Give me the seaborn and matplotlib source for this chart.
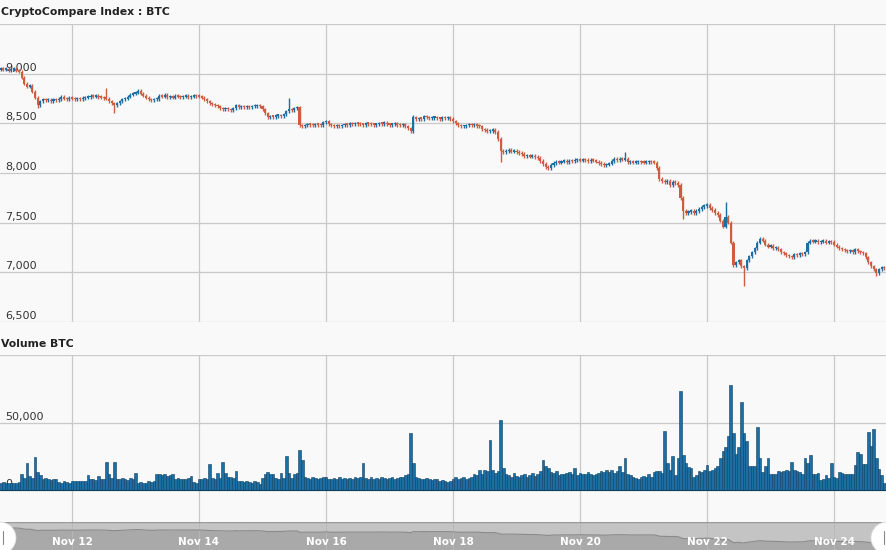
import numpy as np
import pandas as pd
import matplotlib
matplotlib.use("Agg")
import matplotlib.pyplot as plt
import matplotlib.dates as mdates
from matplotlib.patches import Ellipse
import seaborn as sns

# hourly candles, starting Nov 10 21:00
start = "2017-11-10 21:00"

close = [
    9045, 9040, 9050, 9035, 9040, 9045, 9030, 9020,
    8960, 8900, 8870, 8880, 8820, 8760, 8680,
    8720, 8740, 8730, 8735, 8725, 8740, 8730, 8745, 8770,
    8750, 8745, 8755, 8750, 8740, 8750, 8745, 8755, 8760,
    8765, 8775, 8770, 8780, 8765, 8760, 8755, 8750,
    8720, 8700, 8680,
    8700, 8720, 8740, 8750, 8770, 8790, 8800, 8810, 8830,
    8800, 8780, 8760, 8740, 8735, 8740, 8745, 8780, 8770, 8785,
    8765, 8770, 8760, 8775, 8770, 8765, 8770, 8775, 8765, 8770, 8780, 8775,
    8770, 8760, 8740, 8720, 8700, 8690, 8680, 8670,
    8650, 8640, 8645, 8640, 8635, 8650, 8680,
    8660, 8665, 8660, 8670, 8665, 8670, 8675, 8680, 8670,
    8640, 8600, 8560,
    8570, 8565, 8575, 8580, 8570, 8590,
    8620, 8640, 8630, 8650, 8660, 8480,
    8470, 8480, 8490, 8485, 8480, 8490, 8485, 8480,
    8510, 8520, 8490, 8480, 8470, 8475, 8470, 8480,
    8490, 8485, 8495, 8490, 8500, 8495, 8490, 8485, 8500, 8495, 8490, 8485,
    8490, 8500, 8495, 8505, 8490, 8485, 8490, 8495, 8485, 8480, 8490,
    8470, 8450, 8420, 8560,
    8540, 8550, 8545, 8570, 8560, 8550, 8555, 8560, 8550, 8545, 8555,
    8550, 8555, 8545, 8520, 8500, 8480, 8470,
    8470, 8480, 8490, 8480, 8485, 8475, 8470,
    8440, 8430, 8420, 8425, 8430, 8410, 8340, 8220,
    8210, 8220, 8230, 8215, 8220, 8210, 8200, 8190,
    8170, 8175, 8165, 8170, 8160, 8150,
    8120, 8090, 8060, 8050,
    8080, 8100, 8110, 8105, 8115, 8120, 8110, 8125, 8120, 8130,
    8130, 8125, 8135, 8130, 8120, 8130, 8125, 8115,
    8100, 8090, 8080, 8085, 8095,
    8120, 8140, 8130, 8145, 8135, 8140,
    8110, 8115, 8105, 8110, 8115, 8110, 8105, 8110, 8115, 8110, 8105,
    8050, 7940, 7920, 7910, 7920, 7880, 7910, 7900, 7880,
    7750, 7620, 7600, 7610, 7620, 7600, 7615,
    7640, 7660, 7670, 7680, 7650, 7630, 7600, 7580,
    7520, 7460, 7560, 7500, 7300,
    7070, 7100, 7120, 7060, 7040,
    7120, 7160, 7200, 7240, 7300, 7340,
    7320, 7280, 7260, 7270, 7240, 7250,
    7230, 7200, 7190, 7170, 7160, 7150,
    7180, 7170, 7190, 7180, 7200, 7300, 7320,
    7310, 7320, 7305, 7310, 7315, 7300, 7310, 7305,
    7280, 7260, 7240, 7230, 7220,
    7210, 7220, 7200, 7230, 7210, 7200, 7190,
    7150, 7100, 7060, 7030, 6990,
    7030, 7050, 7040, 7030,
]
first_open = 9040

# long wicks that stand out
spike_high = {40: 8860, 109: 8760, 156: 8580, 236: 8210, 274: 7710}
spike_low = {14: 8650, 43: 8600, 155: 8400, 189: 8110, 258: 7540, 281: 6860, 331: 6960}

volume = [
    5000, 6000, 5500, 5000, 5500, 5000, 5500, 6000,
    11800, 9000, 20000, 10500, 8600, 24500, 13000, 11000,
    8000, 9000, 8500, 7500, 8000, 8500,
    6000, 5500, 6500, 6000, 5500,
    6500, 7000, 6500, 7000, 6500, 7000,
    11000, 8000, 8500, 7500, 10500,
    8000, 8500, 21000, 11800, 9000, 20500,
    8500, 8000, 9000, 8500, 7500, 9000, 8000, 12500,
    5500, 6000, 5000, 5500, 6500, 6000, 7000,
    11500, 12000, 11000, 11500, 10500, 11000, 12000,
    8500, 9000, 8000, 8500, 8000, 9000,
    10500, 6000, 5500, 8000, 8500, 9000, 8500,
    19000, 9000, 8500, 12500, 9000, 21000, 12500,
    10000, 9500, 9000, 14000,
    6500, 7000, 6000, 6500, 6000, 5500, 6500, 6000, 4500,
    9000, 12000, 13500, 11500, 12000,
    9000, 8500, 12500, 9000, 25000,
    12500, 9000, 12000, 12500, 30000,
    22000, 10000, 9000, 8500, 9500, 9000, 8500,
    9000, 10000, 9500, 8000, 8500, 9000, 8000, 9500, 8500, 9000,
    8500, 9000, 8000, 9500, 9000, 10000, 20000,
    9000, 8500, 9500, 8000, 9000, 8500, 9500, 9000, 8500,
    9000, 9500, 8500, 9000, 10000, 9500, 11000, 12000,
    42000, 20000,
    9500, 9000, 8500, 8000, 9000, 8500, 7500, 8000, 8500, 7000,
    7500, 6500, 6000, 7000, 8000, 9500, 8500, 9000, 10000, 8500,
    9000, 10000, 12000, 11000, 14500, 12000, 15000, 14000, 37000,
    15000, 12500, 14000, 51500,
    16000, 12000, 11000, 10000, 12500, 10500, 9500, 11000, 12000, 10000,
    11000, 12500, 10500, 11500, 14000, 22000,
    18000, 16000, 13000, 12500, 14000, 11000, 12000, 11500, 12500,
    13000, 12000, 16000, 11000, 12500, 11500, 12000, 13000,
    12000, 11000, 11500, 12500,
    14000, 13500, 14500, 13000, 15000, 12500, 14000, 18000, 13000, 23500,
    12000, 11000, 9500, 9000, 8500, 9500, 10500, 10000, 11500, 10000, 13000, 14000, 14000, 12500,
    44000, 20000, 15000, 25000, 11000, 24000, 73500,
    25700, 20000, 17000, 16500, 9500, 11000,
    14000, 13000, 15000, 18500, 14000, 14500, 16000,
    17500, 24000, 29000, 32000, 40000, 78000,
    42500, 27000, 31500, 65000, 42000, 36000,
    18000, 17500, 18000, 47000, 23500,
    13000, 17500, 23500, 11700, 12000, 11500,
    14000, 13500, 14000, 14500, 14000, 20800,
    14500, 14000, 13500, 12000, 24000, 20000, 25700,
    12000, 11500, 12500, 7400, 8000, 11000, 9000, 20000,
    9500, 9000, 13000, 12500, 12000, 12000, 11500, 12000,
    18400, 28000, 27000, 19000, 19500,
    43000, 32500, 45000, 24000, 15500, 11000, 5000, 3000,
]

date_ticks = ["2017-11-12", "2017-11-14", "2017-11-16", "2017-11-18",
              "2017-11-20", "2017-11-22", "2017-11-24"]
date_labels = ["Nov 12", "Nov 14", "Nov 16", "Nov 18", "Nov 20", "Nov 22", "Nov 24"]
price_ticks = [6500, 7000, 7500, 8000, 8500, 9000, 9500]
price_labels = ["6,500", "7,000", "7,500", "8,000", "8,500", "9,000", ""]
volume_ticks = [0, 50000, 100000]
volume_labels = ["0", "50,000", ""]

sns.set_style("white")
plt.rcParams["font.family"] = ["DejaVu Sans"]

UP = "#1c6ea4"
DOWN = "#cf5b40"
BG = "#f9f9f9"
GRID = "#c9c9c9"
W, H = 887, 550

opens = [first_open] + close[:-1]
highs, lows, colors = [], [], []
for i, (o, c) in enumerate(zip(opens, close)):
    highs.append(spike_high.get(i, max(o, c) + 18))
    lows.append(spike_low.get(i, min(o, c) - 18))
    colors.append(UP if c >= o else DOWN)

tp = mdates.date2num(pd.date_range(start, periods=len(close), freq="h"))
tv = mdates.date2num(pd.date_range(start, periods=len(volume), freq="h"))
hour = 1 / 24

fig = plt.figure(figsize=(W / 100, H / 100), dpi=100, facecolor=BG)
ax_p = fig.add_axes([0, 1 - 322 / H, 1, 298 / H])
ax_v = fig.add_axes([0, 1 - 522 / H, 1, 167 / H])
ax_n = fig.add_axes([0, 0, 1, 28 / H])

x0 = mdates.date2num(pd.Timestamp("2017-11-12")) - 72 / 63.5
x1 = x0 + W / 63.5
gx = mdates.date2num(pd.to_datetime(date_ticks))

for ax in (ax_p, ax_v, ax_n):
    ax.set_xlim(x0, x1)
    ax.set_facecolor(BG)
    for s in ax.spines.values():
        s.set_visible(False)
    ax.set_xticks([])
    ax.set_yticks([])

# price panel
ax_p.set_ylim(6500, 9500)
for v, lab in zip(price_ticks, price_labels):
    ax_p.axhline(v, color=GRID, lw=0.9, zorder=0)
    if lab:
        ax_p.annotate(lab, xy=(0, v), xycoords=("axes fraction", "data"),
                      xytext=(5, 1), textcoords="offset pixels",
                      va="bottom", ha="left", fontsize=8, color="#333333", zorder=1)
for g in gx:
    ax_p.axvline(g, color=GRID, lw=0.9, zorder=0)
ax_p.vlines(tp, lows, highs, colors=colors, lw=1.0, zorder=2)
body_bottom = np.minimum(opens, close)
body_h = np.maximum(np.abs(np.array(close) - np.array(opens)), 14)
ax_p.bar(tp, body_h, bottom=body_bottom, width=0.8 * hour, color=colors,
         linewidth=0, zorder=3)

# volume panel
ax_v.set_ylim(-23700, 100000)
for v, lab in zip(volume_ticks, volume_labels):
    ax_v.axhline(v, color=GRID, lw=0.9, zorder=0)
    if lab:
        ax_v.annotate(lab, xy=(0, v), xycoords=("axes fraction", "data"),
                      xytext=(5, 1), textcoords="offset pixels",
                      va="bottom", ha="left", fontsize=8, color="#333333", zorder=1)
for g in gx:
    ax_v.axvline(g, color=GRID, lw=0.9, zorder=0)
ax_v.bar(tv, volume, width=hour, color="#1b6fa4", edgecolor="#0e3f60",
         linewidth=0.4, zorder=3)
ax_v.axhline(0, color="#0e3f60", lw=0.8, zorder=4)

# navigator
ax_n.set_facecolor("#c4c4c4")
ax_n.set_ylim(6092, 9844)
nav = pd.DataFrame({"t": tp, "close": close})
ax_n.fill_between(nav["t"], 6092, nav["close"], color="#a9a9a9", lw=0, zorder=1)
sns.lineplot(data=nav, x="t", y="close", ax=ax_n, color="#8a8a8a", lw=0.8, zorder=2)
ax_n.set_xlabel("")
ax_n.set_ylabel("")
ax_n.set_xticks([])
ax_n.set_yticks([])
ax_n.axhline(9844, color="#9a9a9a", lw=1, zorder=3)
for g, lab in zip(gx, date_labels):
    ax_n.axvline(g, color="#b8b8b8", lw=0.6, zorder=1)
    ax_n.text(g, 0.3, lab, transform=ax_n.get_xaxis_transform(),
              ha="center", va="center", fontsize=7.5, fontweight="bold",
              color="white", zorder=4)

for cx in (0, W):
    fig.add_artist(Ellipse((cx / W, 1 - 538 / H), 32 / W, 32 / H,
                           transform=fig.transFigure, facecolor="white",
                           edgecolor="#dddddd", lw=0.5, zorder=10))
fig.add_artist(plt.Line2D([3 / W, 3 / W], [1 - 531 / H, 1 - 544 / H],
                          transform=fig.transFigure, color="#888888", lw=0.8, zorder=11))
fig.add_artist(plt.Line2D([884 / W, 884 / W], [1 - 531 / H, 1 - 544 / H],
                          transform=fig.transFigure, color="#888888", lw=0.8, zorder=11))

fig.text(1 / W, 1 - 12 / H, "CryptoCompare Index : BTC", fontsize=7.8,
         fontweight="bold", color="#222222", va="center", ha="left")
fig.text(1 / W, 1 - 344 / H, "Volume BTC", fontsize=7.8,
         fontweight="bold", color="#222222", va="center", ha="left")

fig.savefig("out.png", dpi=100, facecolor=BG)
